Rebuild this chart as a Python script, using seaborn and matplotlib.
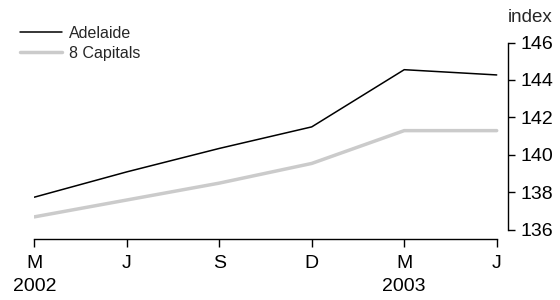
import pandas as pd
import matplotlib.pyplot as plt
import seaborn as sns

quarters = ["M\n2002", "J", "S", "D", "M\n2003", "J"]
adelaide = [137.75, 139.1, 140.35, 141.5, 144.55, 144.27]
capitals = [136.7, 137.6, 138.5, 139.55, 141.3, 141.3]
y_ticks = [136, 138, 140, 142, 144, 146]

df = pd.DataFrame({"pos": range(len(quarters)), "Adelaide": adelaide, "8 Capitals": capitals})

sns.set_style("white")
plt.rcParams['font.family'] = ['Liberation Sans', 'DejaVu Sans']

fig = plt.figure(figsize=(5.6, 3.0), dpi=100)
# plot area in pixels: x 34 -> 508, y 42.5 (146) -> 239 (x axis)
ax = fig.add_axes([34.3 / 560, (300 - 239.3) / 300, (508.3 - 34.3) / 560, (239.3 - 42.5) / 300])

sns.lineplot(data=df, x="pos", y="Adelaide", color="black", linewidth=1.1, ax=ax, label="Adelaide")
sns.lineplot(data=df, x="pos", y="8 Capitals", color="#cbcbcb", linewidth=2.5, ax=ax, label="8 Capitals")

ax.set_xlim(0, 5 + (508.3 - 496.7) / 92.5)
ax.set_ylim(146 - (239.3 - 42.5) / 18.75, 146)

ax.yaxis.tick_right()
ax.set_yticks(y_ticks)
ax.set_xticks(range(len(quarters)))
ax.set_xticklabels(quarters, linespacing=1.5)
ax.set_xlabel("")
ax.set_ylabel("")

for s in ["top", "left"]:
    ax.spines[s].set_visible(False)
ax.spines["right"].set_bounds(136, 146)
ax.spines["bottom"].set_bounds(0, 5)
for s in ["right", "bottom"]:
    ax.spines[s].set_linewidth(1.0)
    ax.spines[s].set_color("black")

ax.tick_params(axis="y", direction="out", length=5, width=1.0, pad=4, labelsize=14, colors="black",
               right=True, left=False)
ax.tick_params(axis="x", direction="out", length=6, width=1.0, pad=5, labelsize=14, colors="black",
               bottom=True)

fig.text(508 / 560, 1 - 18 / 300, "index", ha="left", va="center", fontsize=13.5)

ax.legend(loc="upper left", bbox_to_anchor=(20 / 560, 1 - 26 / 300), bbox_transform=fig.transFigure,
          frameon=False, fontsize=11.5, handlelength=2.6, handletextpad=0.45, labelspacing=0.3,
          borderaxespad=0, borderpad=0)

fig.savefig("out.png", dpi=100)
